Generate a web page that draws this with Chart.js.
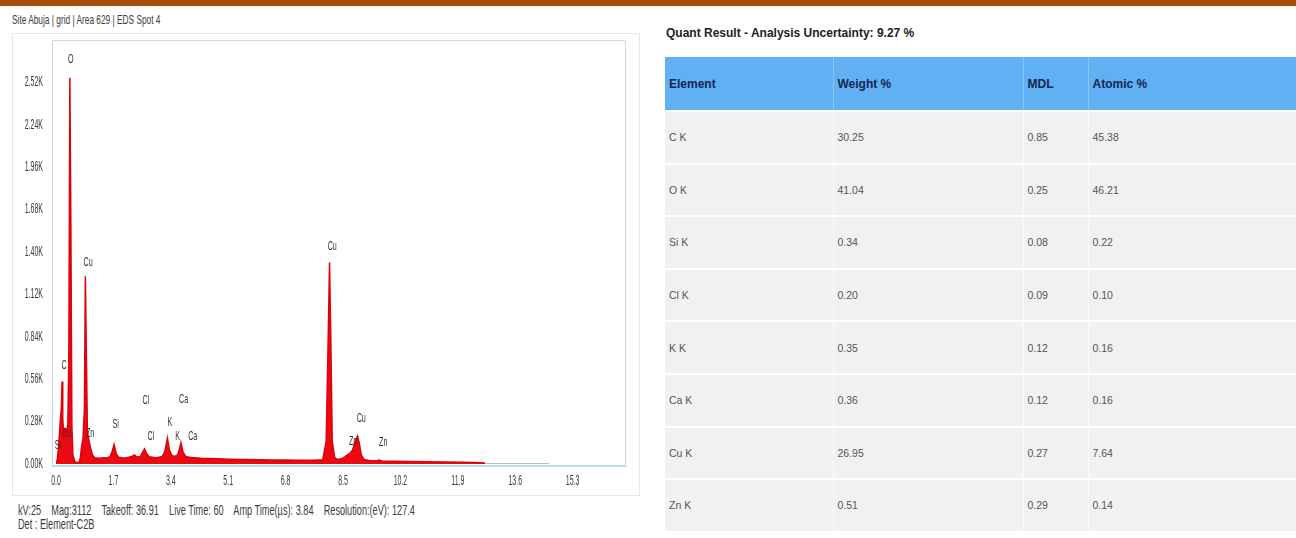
<!DOCTYPE html>
<html>
<head>
<meta charset="utf-8">
<script src="https://cdn.jsdelivr.net/npm/chart.js@4.4.1/dist/chart.umd.min.js"></script>
<style>
    body { margin: 0; width: 1296px; height: 538px; overflow: hidden; background: #fff; position: relative; font-family: 'Liberation Sans', Arial, sans-serif; }
    .top-bar { position: absolute; left: 0; top: 0; width: 1296px; height: 6px; background: #a84d07; }
    .narrow { position: absolute; font-size: 14px; color: #3c3c3c; white-space: pre; transform: scaleX(0.655); transform-origin: 0 50%; line-height: 15px; }
    .spec-frame { position: absolute; left: 12px; top: 33px; width: 628px; height: 463px; border: 1px solid #e8e8e8; box-sizing: border-box; }
    #spec-wrap { position: absolute; left: 0; top: 0; width: 640px; height: 496px; }
    .quant-title { position: absolute; left: 666px; top: 26px; font-size: 12px; font-weight: bold; color: #222; white-space: nowrap; }
    #quant { position: absolute; left: 665px; top: 57px; width: 631px; border-collapse: collapse; table-layout: fixed; font-size: 10.5px; }
    #quant th { background: #61b0f3; color: #14264d; font-weight: bold; font-size: 12px; text-align: left; height: 53px; padding: 0 0 0 4px; border-left: 1px solid #8cc6f6; }
    #quant td { background: #f1f1f1; color: #555; height: 50.6px; padding: 0 0 0 4px; border-top: 2px solid #fff; border-left: 1px solid #fafafa; }
    #quant th:first-child, #quant td:first-child { border-left: none; }
</style>
</head>
<body>
<div class="top-bar"></div>
<div class="narrow" style="left:12px; top:12px; font-size:13px; transform:scaleX(0.64);">Site Abuja | grid | Area 629 | EDS Spot 4</div>
<div class="spec-frame"></div>
<div id="spec-wrap"><canvas id="spectrum"></canvas></div>
<div class="narrow" style="left:18px; top:503px;">kV:25    Mag:3112    Takeoff: 36.91    Live Time: 60    Amp Time(µs): 3.84    Resolution:(eV): 127.4</div>
<div class="narrow" style="left:18px; top:517px;">Det : Element-C2B</div>
<div class="quant-title">Quant Result - Analysis Uncertainty: 9.27 %</div>
<table id="quant">
    <colgroup><col style="width:168px"><col style="width:190px"><col style="width:65px"><col style="width:208px"></colgroup>
    <thead><tr><th>Element</th><th>Weight %</th><th>MDL</th><th>Atomic %</th></tr></thead>
    <tbody></tbody>
</table>

<script>
'use strict';

// spectrum (energy in keV, counts)
let energyKeV = [0.00, 0.04, 0.08, 0.12, 0.16, 0.18, 0.20, 0.23, 0.27, 0.31, 0.35, 0.38, 0.41, 0.44, 0.47, 0.50, 0.56, 0.62, 0.68, 0.72, 0.76, 0.80, 0.84, 0.87, 0.90, 0.93, 0.97, 1.02, 1.08, 1.15,
    1.20, 1.30, 1.40, 1.50, 1.60, 1.66, 1.72, 1.78, 1.85, 1.95, 2.05, 2.15, 2.25, 2.32, 2.40, 2.50, 2.56, 2.62, 2.68, 2.76, 2.85, 2.95, 3.05, 3.15, 3.22, 3.30, 3.36, 3.44, 3.52, 3.60, 3.66, 3.70, 3.76, 3.84, 3.95,
    4.10, 4.30, 4.50, 4.80, 5.10, 5.50, 6.00, 6.40, 6.80, 7.20, 7.60, 7.90, 8.00, 8.05, 8.10, 8.14, 8.18, 8.25, 8.32, 8.45, 8.55, 8.63, 8.70, 8.78, 8.86, 8.93, 8.98, 9.04, 9.12,
    9.30, 9.50, 9.57, 9.65, 10.0, 10.5, 11.0, 11.5, 12.0, 12.4, 12.7];
let counts = [0, 30, 120, 260, 380, 545, 300, 190, 230, 210, 260, 700, 2550, 1600, 250, 60, 15, 10, 10, 40, 120, 170, 350, 1240, 700, 220, 160, 110, 60, 40,
    40, 38, 42, 40, 48, 80, 130, 70, 45, 42, 40, 44, 50, 60, 45, 50, 75, 100, 70, 48, 45, 42, 45, 50, 80, 170, 90, 55, 50, 60, 100, 140, 80, 50, 45,
    42, 38, 36, 34, 32, 30, 28, 27, 26, 25, 25, 28, 150, 700, 1330, 800, 150, 45, 30, 35, 45, 60, 70, 90, 150, 185, 140, 60, 30,
    22, 22, 26, 20, 18, 16, 15, 14, 12, 10, 6];

// flat tail drawn in grey where the detector reports nothing
let tailKeV = [12.7, 14.6];
let tailCounts = [0, 0];

let yTickValues = [0, 280, 560, 840, 1120, 1400, 1680, 1960, 2240, 2520];
let xTickValues = [0, 1.7, 3.4, 5.1, 6.8, 8.5, 10.2, 11.9, 13.6, 15.3];

// peak identification labels
let peakNames = ['O', 'Cu', 'C', 'Si', 'Cu', 'Zn', 'Si', 'Cl', 'Cl', 'K', 'Ca', 'K', 'Ca', 'Cu', 'Cu', 'Zn', 'Zn'];
let peakKeV = [0.44, 0.95, 0.24, 0.06, 0.32, 1.01, 1.77, 2.66, 2.81, 3.37, 3.78, 3.60, 4.05, 8.18, 9.04, 8.80, 9.69];
let peakCounts = [2670, 1330, 650, 120, 200, 200, 260, 420, 180, 275, 425, 180, 180, 1440, 300, 150, 140];

// quant table
let elements = ['C K', 'O K', 'Si K', 'Cl K', 'K K', 'Ca K', 'Cu K', 'Zn K'];
let weightPct = ['30.25', '41.04', '0.34', '0.20', '0.35', '0.36', '26.95', '0.51'];
let mdl = ['0.85', '0.25', '0.08', '0.09', '0.12', '0.12', '0.27', '0.29'];
let atomicPct = ['45.38', '46.21', '0.22', '0.10', '0.16', '0.16', '7.64', '0.14'];

let tbody = document.querySelector('#quant tbody');
elements.forEach(function(el, i) {
    let tr = document.createElement('tr');
    [el, weightPct[i], mdl[i], atomicPct[i]].forEach(function(v) {
        let td = document.createElement('td');
        td.textContent = v;
        tr.appendChild(td);
    });
    tbody.appendChild(tr);
});

// the instrument software uses a very condensed face, so squeeze the text
function drawNarrow(ctx, text, x, y, align, sx) {
    ctx.save();
    ctx.translate(x, y);
    ctx.scale(sx, 1);
    ctx.textAlign = align;
    ctx.fillText(text, 0, 0);
    ctx.restore();
}

// frame round the plot area
let plotFrame = {
    id: 'plotFrame',
    beforeDatasetsDraw: function(chart) {
        let a = chart.chartArea;
        let ctx = chart.ctx;
        ctx.save();
        ctx.strokeStyle = '#cad8e6';
        ctx.lineWidth = 1;
        ctx.beginPath();
        ctx.moveTo(a.left - 3.5, a.bottom + 3);
        ctx.lineTo(a.left - 3.5, a.top + 0.5);
        ctx.lineTo(a.right + 0.5, a.top + 0.5);
        ctx.lineTo(a.right + 0.5, a.bottom + 3);
        ctx.stroke();
        ctx.strokeStyle = '#b7e0ec';
        ctx.lineWidth = 2;
        ctx.beginPath();
        ctx.moveTo(a.left - 3.5, a.bottom + 2);
        ctx.lineTo(a.right, a.bottom + 2);
        ctx.stroke();
        ctx.restore();
    }
};

// axis tick labels + peak labels, drawn condensed
let narrowText = {
    id: 'narrowText',
    afterDatasetsDraw: function(chart) {
        let ctx = chart.ctx;
        let sx = chart.scales.x, sy = chart.scales.y;
        ctx.save();
        ctx.font = '14px "Liberation Sans", Arial, sans-serif';
        ctx.textBaseline = 'middle';
        ctx.fillStyle = '#3a3a3a';
        sx.ticks.forEach(function(t, i) {
            drawNarrow(ctx, t.label, sx.getPixelForTick(i), chart.chartArea.bottom + 17, 'center', 0.5);
        });
        sy.ticks.forEach(function(t, i) {
            drawNarrow(ctx, t.label, chart.chartArea.left - 13, sy.getPixelForTick(i), 'right', 0.5);
        });
        ctx.font = '13px "Liberation Sans", Arial, sans-serif';
        ctx.fillStyle = '#333';
        peakNames.forEach(function(name, i) {
            drawNarrow(ctx, name, sx.getPixelForValue(peakKeV[i]), sy.getPixelForValue(peakCounts[i]), 'center', 0.55);
        });
        ctx.restore();
    }
};

let options = {
    type: 'line',
    data: {
        datasets: [{
            data: energyKeV.map(function(e, i) { return { x: e, y: counts[i] }; }),
            borderColor: '#e0000b',
            backgroundColor: '#ec0a12',
            borderWidth: 1.5,
            fill: 'origin',
            pointRadius: 0,
            tension: 0
        }, {
            data: tailKeV.map(function(e, i) { return { x: e, y: tailCounts[i] }; }),
            borderColor: '#bdbdbd',
            borderWidth: 2,
            pointRadius: 0,
            fill: false
        }]
    },
    options: {
        responsive: true,
        maintainAspectRatio: false,
        animation: false,
        layout: { padding: { left: 0, top: 40, right: 15, bottom: 0 } },
        plugins: { legend: { display: false }, tooltip: { enabled: false } },
        scales: {
            x: {
                type: 'linear',
                min: 0,
                max: 16.85,
                grid: { display: false, drawTicks: false },
                border: { display: false },
                afterBuildTicks: function(axis) { axis.ticks = xTickValues.map(function(v) { return { value: v }; }); },
                afterFit: function(axis) { axis.height = 32; },
                ticks: {
                    display: false,
                    callback: function(v) { return v.toFixed(1); }
                }
            },
            y: {
                min: 0,
                max: 2800,
                grid: { display: false, drawTicks: false },
                border: { display: false },
                afterBuildTicks: function(axis) { axis.ticks = yTickValues.map(function(v) { return { value: v }; }); },
                afterFit: function(axis) { axis.width = 56; },
                ticks: {
                    display: false,
                    callback: function(v) { return (v / 1000).toFixed(2) + 'K'; }
                }
            }
        }
    },
    plugins: [plotFrame, narrowText]
};

let chart = new Chart(document.getElementById('spectrum'), options);
</script>
</body>
</html>
